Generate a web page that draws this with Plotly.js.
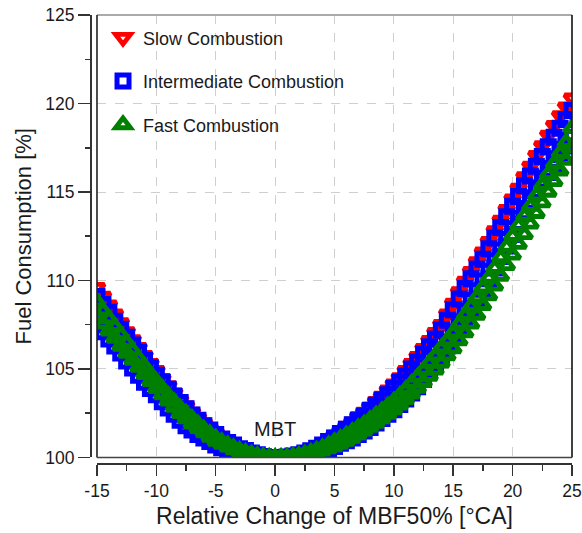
<!DOCTYPE html>
<html>
<head>
<meta charset="utf-8">
<script src="https://cdn.plot.ly/plotly-3.0.1.min.js"></script>
<style>html,body{margin:0;padding:0;background:#fff;}#chart{width:582px;height:533px;}</style>
</head>
<body>
<div id="chart"></div>
<script>
// Relative change of MBF50% [°CA]
const mbf50 = [
 -15,-14.5,-14,-13.5,-13,-12.5,-12,-11.5,-11,-10.5,
 -10,-9.5,-9,-8.5,-8,-7.5,-7,-6.5,-6,-5.5,
 -5,-4.5,-4,-3.5,-3,-2.5,-2,-1.5,-1,-0.5,
 0,0.5,1,1.5,2,2.5,3,3.5,4,4.5,
 5,5.5,6,6.5,7,7.5,8,8.5,9,9.5,
 10,10.5,11,11.5,12,12.5,13,13.5,14,14.5,
 15,15.5,16,16.5,17,17.5,18,18.5,19,19.5,
 20,20.5,21,21.5,22,22.5,23,23.5,24,24.5,
 25
];
// Slow combustion fuel consumption [%]
const slowFC = [
 109.6,109.1,108.6,108.1,107.6,107.1,106.65,106.2,105.75,105.3,
 104.9,104.45,104.05,103.65,103.25,102.9,102.55,102.25,101.95,101.65,
 101.4,101.15,100.95,100.75,100.6,100.45,100.3,100.2,100.1,100.03,
 100.0,100.02,100.05,100.1,100.2,100.3,100.45,100.6,100.8,101.0,
 101.25,101.5,101.75,102.0,102.3,102.55,102.85,103.15,103.45,103.8,
 104.15,104.5,104.9,105.3,105.7,106.15,106.6,107.05,107.5,108.1,
 108.7,109.35,109.95,110.5,111.05,111.6,112.2,112.8,113.4,114.0,
 114.6,115.2,115.85,116.45,117.05,117.6,118.2,118.75,119.3,119.8,
 120.3
];
// Intermediate combustion, upper set
const interFC_upper = [
 109.1,108.65,108.2,107.7,107.25,106.8,106.35,105.95,105.5,105.05,
 104.65,104.25,103.85,103.45,103.1,102.75,102.4,102.1,101.8,101.55,
 101.3,101.05,100.85,100.7,100.5,100.4,100.25,100.15,100.05,100.0,
 99.98,100.0,100.03,100.08,100.15,100.25,100.38,100.52,100.7,100.9,
 101.1,101.35,101.6,101.85,102.1,102.35,102.65,102.95,103.25,103.55,
 103.9,104.25,104.6,105.0,105.4,105.85,106.25,106.7,107.2,107.75,
 108.35,108.95,109.55,110.1,110.65,111.2,111.8,112.4,113.0,113.6,
 114.2,114.75,115.35,115.9,116.45,117.0,117.55,118.1,118.6,119.1,
 119.6
];
// Intermediate combustion, lower set
const interFC_lower = [
 107.5,107.1,106.7,106.3,105.9,105.45,105.05,104.65,104.25,103.9,
 103.55,103.15,102.8,102.45,102.1,101.8,101.55,101.3,101.1,100.9,
 100.7,100.55,100.4,100.28,100.18,100.1,100.05,100.0,99.98,99.97,
 99.97,99.98,100.0,100.03,100.07,100.12,100.2,100.3,100.4,100.5,
 100.62,100.8,100.95,101.1,101.3,101.5,101.7,101.95,102.2,102.45,
 102.7,103.0,103.3,103.65,104.0,104.4,104.85,105.3,105.8,106.3,
 106.8,107.35,107.85,108.4,108.95,109.5,110.1,110.7,111.35,111.95,
 112.6,113.2,113.8,114.4,115.0,115.6,116.1,116.6,117.1,117.6,
 118.1
];
// Fast combustion, upper set
const fastFC_upper = [
 108.8,108.3,107.85,107.4,106.95,106.5,106.05,105.6,105.15,104.7,
 104.3,103.9,103.5,103.15,102.8,102.5,102.2,101.9,101.6,101.35,
 101.1,100.9,100.72,100.56,100.42,100.3,100.2,100.12,100.05,100.01,
 100.0,100.0,100.02,100.06,100.12,100.2,100.3,100.42,100.56,100.72,
 100.9,101.08,101.27,101.47,101.68,101.9,102.15,102.4,102.65,102.92,
 103.2,103.5,103.85,104.2,104.55,104.95,105.35,105.75,106.2,106.6,
 107.05,107.55,108.05,108.55,109.05,109.6,110.15,110.7,111.3,111.9,
 112.5,113.1,113.65,114.2,114.8,115.4,116.0,116.6,117.2,117.8,
 118.6
];
// Fast combustion, lower set
const fastFC_lower = [
 108.0,107.55,107.15,106.75,106.3,105.9,105.5,105.1,104.7,104.3,
 103.9,103.55,103.2,102.85,102.5,102.2,101.9,101.65,101.4,101.15,
 100.92,100.75,100.6,100.45,100.32,100.22,100.13,100.06,100.02,100.0,
 99.99,99.99,100.0,100.03,100.07,100.12,100.19,100.28,100.38,100.5,
 100.62,100.76,100.92,101.1,101.3,101.5,101.72,101.95,102.2,102.45,
 102.7,102.98,103.28,103.6,103.92,104.25,104.6,104.95,105.35,105.75,
 106.15,106.6,107.05,107.55,108.05,108.6,109.15,109.7,110.25,110.85,
 111.45,112.05,112.6,113.2,113.8,114.4,115.0,115.6,116.2,116.8,
 117.5
];
const seriesNames = ['Slow Combustion', 'Intermediate Combustion', 'Fast Combustion'];
const xTickVals = [-15, -10, -5, 0, 5, 10, 15, 20, 25];
const xTickText = ['-15', '-10', '-5', '0', '5', '10', '15', '20', '25'];
const yTickVals = [100, 105, 110, 115, 120, 125];
const yTickText = ['100', '105', '110', '115', '120', '125'];

const FONT = '"Liberation Sans", Arial, Helvetica, sans-serif';

const traces = [
  {
    x: mbf50, y: slowFC, name: seriesNames[0], legendgroup: 'g1',
    type: 'scatter', mode: 'markers',
    marker: {symbol: 'triangle-down-open', size: 13, color: '#ff0000', line: {width: 4.8, color: '#ff0000'}}
  },
  {
    x: mbf50.concat(mbf50), y: interFC_upper.concat(interFC_lower), name: seriesNames[1], legendgroup: 'g2',
    type: 'scatter', mode: 'markers',
    marker: {symbol: 'square-open', size: 12, color: '#0000ff', line: {width: 5, color: '#0000ff'}}
  },
  {
    x: mbf50.concat(mbf50), y: fastFC_upper.concat(fastFC_lower), name: seriesNames[2], legendgroup: 'g3',
    type: 'scatter', mode: 'markers',
    marker: {symbol: 'triangle-up-open', size: 13, color: '#008000', line: {width: 4.8, color: '#008000'}}
  }
];

const axisCommon = {
  anchor: 'free', position: 0,
  showline: true, linecolor: '#333', linewidth: 1.6,
  ticks: 'outside', tickwidth: 1.5, tickcolor: '#333',
  showgrid: true, gridcolor: '#cfcfcf', griddash: 'dash', gridwidth: 1,
  zeroline: false,
  tickfont: {size: 17.5, color: '#1a1a1a', family: FONT}
};

const layout = {
  width: 582, height: 533,
  margin: {l: 90, r: 10, t: 15, b: 70},
  paper_bgcolor: '#ffffff', plot_bgcolor: '#ffffff',
  font: {family: FONT, color: '#1a1a1a'},
  showlegend: true,
  legend: {
    x: 0.027, y: 0.99, xanchor: 'left', yanchor: 'top',
    bgcolor: 'rgba(0,0,0,0)', borderwidth: 0,
    font: {size: 18, family: FONT, color: '#1a1a1a'},
    tracegroupgap: 17, itemwidth: 30
  },
  xaxis: Object.assign({}, axisCommon, {
    domain: [0.0145, 1], range: [-15, 25],
    tickmode: 'array', tickvals: xTickVals, ticktext: xTickText, ticklen: 11,
    minor: {ticks: 'outside', ticklen: 6, tickwidth: 1.5, tickcolor: '#333', tick0: 0, dtick: 2.5, showgrid: false},
    title: {text: 'Relative Change of MBF50% [°CA]', font: {size: 23, family: FONT, color: '#1a1a1a'}, standoff: 8}
  }),
  yaxis: Object.assign({}, axisCommon, {
    domain: [0.0123, 1], range: [100, 125],
    tickmode: 'array', tickvals: yTickVals, ticktext: yTickText, ticklen: 12,
    minor: {ticks: 'outside', ticklen: 5, tickwidth: 1.5, tickcolor: '#333', tick0: 0, dtick: 2.5, showgrid: false},
    title: {text: 'Fuel Consumption [%]', font: {size: 22, family: FONT, color: '#1a1a1a'}, standoff: 6}
  }),
  shapes: [
    {type: 'line', xref: 'x domain', yref: 'y domain', x0: 0, x1: 1, y0: 1, y1: 1, line: {color: '#aaaaaa', width: 2}, layer: 'above'},
    {type: 'line', xref: 'x domain', yref: 'y domain', x0: 0, x1: 0, y0: 0, y1: 1, line: {color: '#222222', width: 1.6}, layer: 'above'},
    {type: 'line', xref: 'x domain', yref: 'y domain', x0: 1, x1: 1, y0: 0, y1: 1, line: {color: '#111111', width: 1.6}, layer: 'above'},
    {type: 'line', xref: 'x domain', yref: 'y domain', x0: 0, x1: 1, y0: 0, y1: 0, line: {color: '#444444', width: 1.6}, layer: 'above'}
  ],
  annotations: [
    {x: 0, y: 101.6, xref: 'x', yref: 'y', text: 'MBT', showarrow: false, font: {size: 20, family: FONT, color: '#1a1a1a'}}
  ]
};

Plotly.newPlot('chart', traces, layout, {displayModeBar: false, staticPlot: true});
</script>
</body>
</html>
